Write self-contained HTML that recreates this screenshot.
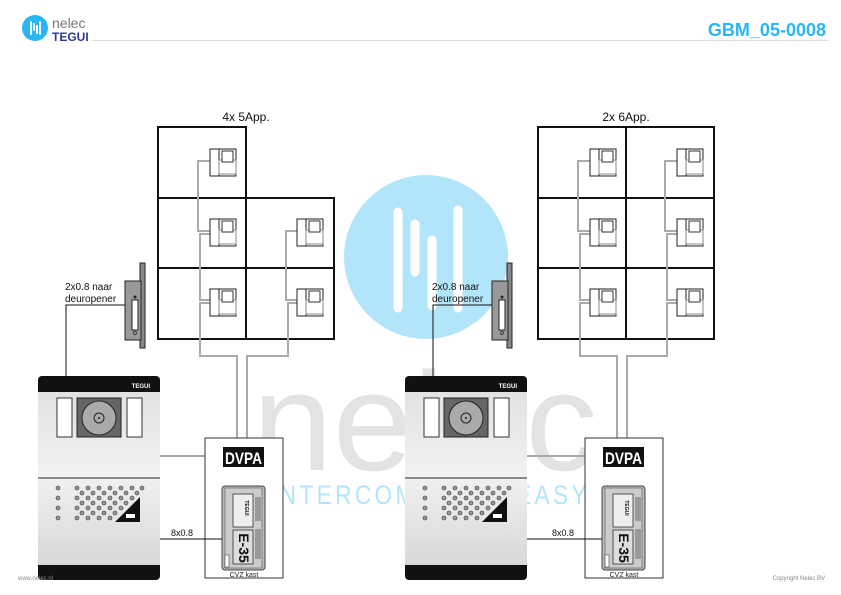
<!DOCTYPE html>
<html><head><meta charset="utf-8"><style>
html,body{margin:0;padding:0;background:#fff}
svg{display:block}
text{font-family:"Liberation Sans",sans-serif}
</style></head><body>
<svg width="841" height="595" viewBox="0 0 841 595" xmlns="http://www.w3.org/2000/svg">
<defs>
<linearGradient id="pg" x1="0" y1="0" x2="0" y2="1"><stop offset="0" stop-color="#e2e2e2"/><stop offset="1" stop-color="#f2f2f2"/></linearGradient>
<linearGradient id="pg2" x1="0" y1="0" x2="0" y2="1"><stop offset="0" stop-color="#f0f0f0"/><stop offset="1" stop-color="#d8d8d8"/></linearGradient>
<g id="ph">
 <rect x="0" y="0" width="26" height="27" fill="#fff" stroke="#222" stroke-width="1"/>
 <rect x="0" y="0" width="9" height="27" fill="#fff" stroke="#222" stroke-width="1"/>
 <rect x="9" y="11" width="17" height="14" fill="none" stroke="#888" stroke-width="1"/>
 <rect x="12" y="2" width="11" height="11" fill="#fff" stroke="#333" stroke-width="1"/>
</g>
<g id="panel">
 <rect x="0" y="0" width="122" height="204" rx="4" fill="#111"/>
 <rect x="0" y="16" width="122" height="86" fill="url(#pg)"/>
 <rect x="0" y="102" width="122" height="87" fill="url(#pg2)"/>
 <line x1="0" y1="102" x2="122" y2="102" stroke="#222" stroke-width="1"/>
 <text x="112" y="12" font-size="6" fill="#fff" font-weight="bold" text-anchor="end">TEGUI</text>
 <rect x="19" y="22" width="15" height="39" fill="#fff" stroke="#333"/>
 <rect x="89" y="22" width="15" height="39" fill="#fff" stroke="#333"/>
 <rect x="39" y="22" width="44" height="39" fill="#666" stroke="#222"/>
 <circle cx="61" cy="42" r="17" fill="#aaa" stroke="#222"/>
 <circle cx="61" cy="42" r="5" fill="none" stroke="#222"/>
 <circle cx="61" cy="42" r="1" fill="#222"/>
 <g fill="#999" stroke="#333" stroke-width="0.6">
  <circle cx="20" cy="112" r="2"/><circle cx="20" cy="122" r="2"/><circle cx="20" cy="132" r="2"/><circle cx="20" cy="142" r="2"/>
  <circle cx="39" cy="112" r="2"/><circle cx="50" cy="112" r="2"/><circle cx="61" cy="112" r="2"/><circle cx="72" cy="112" r="2"/><circle cx="83" cy="112" r="2"/><circle cx="94" cy="112" r="2"/><circle cx="104" cy="112" r="2"/>
  <circle cx="44" cy="117" r="2"/><circle cx="55" cy="117" r="2"/><circle cx="66" cy="117" r="2"/><circle cx="77" cy="117" r="2"/><circle cx="88" cy="117" r="2"/><circle cx="99" cy="117" r="2"/>
  <circle cx="39" cy="122" r="2"/><circle cx="50" cy="122" r="2"/><circle cx="61" cy="122" r="2"/><circle cx="72" cy="122" r="2"/><circle cx="83" cy="122" r="2"/><circle cx="94" cy="122" r="2"/>
  <circle cx="44" cy="127" r="2"/><circle cx="55" cy="127" r="2"/><circle cx="66" cy="127" r="2"/><circle cx="77" cy="127" r="2"/><circle cx="88" cy="127" r="2"/>
  <circle cx="39" cy="132" r="2"/><circle cx="50" cy="132" r="2"/><circle cx="61" cy="132" r="2"/><circle cx="72" cy="132" r="2"/><circle cx="83" cy="132" r="2"/>
  <circle cx="44" cy="137" r="2"/><circle cx="55" cy="137" r="2"/><circle cx="66" cy="137" r="2"/><circle cx="77" cy="137" r="2"/>
  <circle cx="39" cy="142" r="2"/><circle cx="50" cy="142" r="2"/><circle cx="61" cy="142" r="2"/><circle cx="72" cy="142" r="2"/>
 </g>
 <polygon points="77,146 102,121 102,146" fill="#111"/>
 <rect x="88" y="138" width="9" height="4" fill="#fff"/>
</g>
<g id="door">
 <rect x="15" y="0" width="5" height="85" fill="#888" stroke="#222" stroke-width="1"/>
 <rect x="0" y="18" width="16" height="59" fill="#999" stroke="#222" stroke-width="1"/>
 <rect x="7" y="37" width="6" height="30" fill="#fff" stroke="#222" stroke-width="1"/>
 <circle cx="10" cy="34" r="1.5" fill="#222"/>
 <circle cx="10" cy="70" r="1.5" fill="none" stroke="#222" stroke-width="0.7"/>
</g>
<g id="cvz">
 <rect x="0" y="0" width="78" height="140" fill="#fff" stroke="#333" stroke-width="1"/>
 <rect x="18" y="9" width="41" height="20" fill="#111"/>
 <text x="38.5" y="26" font-size="17" font-weight="bold" fill="#fff" text-anchor="middle" textLength="37" lengthAdjust="spacingAndGlyphs">DVPA</text>
 <rect x="17" y="48" width="43" height="84" rx="3" fill="#bbb" stroke="#444"/>
 <rect x="20" y="50" width="37" height="80" fill="#ccc" stroke="#555" stroke-width="0.6"/>
 <rect x="28" y="56" width="20" height="33" fill="#eee" stroke="#333" stroke-width="0.8"/>
 <rect x="28" y="92" width="20" height="34" fill="#ddd" stroke="#333" stroke-width="0.8"/>
 <text transform="translate(34,110) rotate(90)" font-size="14" font-weight="bold" fill="#111" text-anchor="middle">E-35</text>
 <text transform="translate(40,70) rotate(90)" font-size="5" font-weight="bold" fill="#111" text-anchor="middle">TEGUI</text>
 <g stroke="#222" stroke-width="0.6">
  <line x1="50" y1="60" x2="56" y2="60"/><line x1="50" y1="62" x2="56" y2="62"/><line x1="50" y1="64" x2="56" y2="64"/><line x1="50" y1="66" x2="56" y2="66"/><line x1="50" y1="68" x2="56" y2="68"/><line x1="50" y1="70" x2="56" y2="70"/><line x1="50" y1="72" x2="56" y2="72"/><line x1="50" y1="74" x2="56" y2="74"/><line x1="50" y1="76" x2="56" y2="76"/><line x1="50" y1="78" x2="56" y2="78"/><line x1="50" y1="80" x2="56" y2="80"/><line x1="50" y1="82" x2="56" y2="82"/>
  <line x1="50" y1="92" x2="56" y2="92"/><line x1="50" y1="94" x2="56" y2="94"/><line x1="50" y1="96" x2="56" y2="96"/><line x1="50" y1="98" x2="56" y2="98"/><line x1="50" y1="100" x2="56" y2="100"/><line x1="50" y1="102" x2="56" y2="102"/><line x1="50" y1="104" x2="56" y2="104"/><line x1="50" y1="106" x2="56" y2="106"/><line x1="50" y1="108" x2="56" y2="108"/><line x1="50" y1="110" x2="56" y2="110"/><line x1="50" y1="112" x2="56" y2="112"/><line x1="50" y1="114" x2="56" y2="114"/><line x1="50" y1="116" x2="56" y2="116"/><line x1="50" y1="118" x2="56" y2="118"/><line x1="50" y1="120" x2="56" y2="120"/>
 </g>
 <rect x="20" y="117" width="4" height="12" fill="#fff" stroke="#444" stroke-width="0.6"/>
 <text x="39" y="139" font-size="7" fill="#222" text-anchor="middle">CVZ kast</text>
</g>
</defs>

<!-- watermark -->
<circle cx="426" cy="257" r="82" fill="#b3e5fa"/>
<g stroke="#fff" stroke-width="9" stroke-linecap="round">
 <line x1="398" y1="212" x2="398" y2="308"/>
 <line x1="415" y1="224" x2="415" y2="272"/>
 <line x1="432" y1="240" x2="432" y2="306"/>
 <line x1="458" y1="210" x2="458" y2="308"/>
</g>
<text x="425" y="470" font-size="140" fill="#e3e3e3" text-anchor="middle" textLength="345" lengthAdjust="spacingAndGlyphs">nelec</text>
<text x="430" y="504" font-size="27" fill="#b3e5fa" text-anchor="middle" letter-spacing="4" textLength="320" lengthAdjust="spacingAndGlyphs">INTERCOM MADE EASY</text>

<!-- header -->
<circle cx="35" cy="28" r="13" fill="#29b6f6"/>
<g stroke="#fff" stroke-width="2" stroke-linecap="round"><line x1="31" y1="22" x2="31" y2="34"/><line x1="34" y1="24" x2="34" y2="30"/><line x1="37" y1="26" x2="37" y2="33"/><line x1="40" y1="22" x2="40" y2="34"/></g>
<text x="52" y="28" font-size="14" fill="#777">nelec</text>
<text x="52" y="41" font-size="12" font-weight="bold" fill="#2a3b8f">TEGUI</text>
<line x1="92" y1="40.5" x2="828" y2="40.5" stroke="#ddd" stroke-width="1"/>
<text x="826" y="36" font-size="18" font-weight="bold" fill="#29b6f6" text-anchor="end">GBM_05-0008</text>

<!-- left grid -->
<text x="246" y="121" font-size="12" fill="#111" text-anchor="middle">4x 5App.</text>
<g fill="none" stroke="#111" stroke-width="2">
 <rect x="158" y="127" width="88" height="71"/>
 <rect x="158" y="198" width="88" height="70"/>
 <rect x="246" y="198" width="88" height="70"/>
 <rect x="158" y="268" width="88" height="71"/>
 <rect x="246" y="268" width="88" height="71"/>
</g>
<g fill="none" stroke="#aaa" stroke-width="2">
 <polyline points="210,161 198,161 198,231 210,231"/>
 <polyline points="210,234 200,234 200,300 210,300"/>
 <polyline points="210,303 200,303 200,356 237,356 237,447"/>
 <polyline points="297,231 286,231 286,300 297,300"/>
 <polyline points="297,303 288,303 288,356 247,356 247,447"/>
 <line x1="160" y1="456" x2="223" y2="456"/>
</g>
<use href="#ph" x="210" y="149"/><use href="#ph" x="210" y="219"/><use href="#ph" x="210" y="289"/>
<use href="#ph" x="297" y="219"/><use href="#ph" x="297" y="289"/>

<!-- right grid -->
<text x="626" y="121" font-size="12" fill="#111" text-anchor="middle">2x 6App.</text>
<g fill="none" stroke="#111" stroke-width="2">
 <rect x="538" y="127" width="88" height="71"/><rect x="626" y="127" width="88" height="71"/>
 <rect x="538" y="198" width="88" height="70"/><rect x="626" y="198" width="88" height="70"/>
 <rect x="538" y="268" width="88" height="71"/><rect x="626" y="268" width="88" height="71"/>
</g>
<g fill="none" stroke="#aaa" stroke-width="2">
 <polyline points="590,161 578,161 578,231 590,231"/>
 <polyline points="590,234 580,234 580,300 590,300"/>
 <polyline points="590,303 580,303 580,356 617,356 617,447"/>
 <polyline points="677,161 665,161 665,231 677,231"/>
 <polyline points="677,234 667,234 667,300 677,300"/>
 <polyline points="677,303 667,303 667,356 627,356 627,447"/>
 <line x1="527" y1="456" x2="603" y2="456"/>
</g>
<use href="#ph" x="590" y="149"/><use href="#ph" x="590" y="219"/><use href="#ph" x="590" y="289"/>
<use href="#ph" x="677" y="149"/><use href="#ph" x="677" y="219"/><use href="#ph" x="677" y="289"/>

<!-- door openers -->
<use href="#door" x="125" y="263"/>
<use href="#door" x="492" y="263"/>
<polyline points="66,376 66,305 125,305" fill="none" stroke="#111" stroke-width="1"/>
<polyline points="433,376 433,305 492,305" fill="none" stroke="#111" stroke-width="1"/>
<text x="65" y="290" font-size="10" fill="#111">2x0.8 naar</text>
<text x="65" y="302" font-size="10" fill="#111">deuropener</text>
<text x="432" y="290" font-size="10" fill="#111">2x0.8 naar</text>
<text x="432" y="302" font-size="10" fill="#111">deuropener</text>

<!-- panels -->
<use href="#panel" x="38" y="376"/>
<use href="#panel" x="405" y="376"/>

<!-- CVZ -->
<use href="#cvz" x="205" y="438"/>
<use href="#cvz" x="585" y="438"/>
<line x1="160" y1="539" x2="222" y2="539" stroke="#111" stroke-width="1"/>
<line x1="527" y1="539" x2="602" y2="539" stroke="#111" stroke-width="1"/>
<text x="182" y="536" font-size="9" fill="#111" text-anchor="middle">8x0.8</text>
<text x="563" y="536" font-size="9" fill="#111" text-anchor="middle">8x0.8</text>

<text x="18" y="580" font-size="6" fill="#888">www.nelec.nl</text>
<text x="825" y="580" font-size="6" fill="#888" text-anchor="end">Copyright Nelec BV</text>
</svg>
</body></html>
